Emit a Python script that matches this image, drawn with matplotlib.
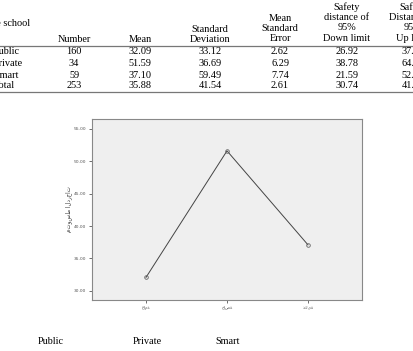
import matplotlib

matplotlib.use("Agg")
import matplotlib.pyplot as plt
from matplotlib.lines import Line2D

# Table data
row_names = ["Public", "Private", "Smart", "Total"]
counts = [160, 34, 59, 253]
means = [32.09, 51.59, 37.10, 35.88]
std_devs = [33.12, 36.69, 59.49, 41.54]
std_errors = [2.62, 6.29, 7.74, 2.61]
lower_limits = [26.92, 38.78, 21.59, 30.74]
upper_limits = [37.26, 64.40, 52.61, 41.02]

# Chart data (means of the three school types)
school_labels = ["عامة", "خاصة", "ذكية"]
school_means = [32.09, 51.59, 37.10]
y_ticks = [30.0, 35.0, 40.0, 45.0, 50.0, 55.0]
y_label = "متوسط الدرجات"
bottom_labels = ["Public", "Private", "Smart"]

W, H = 413, 351
fig = plt.figure(figsize=(W / 100, H / 100), dpi=100)
serif = "Liberation Serif"
fs = 7.4


def fx(px):
    return px / W


def fy(py):
    return 1 - py / H


# ---- table (left and right columns run off the page, as in the source) ----
fig.text(fx(30), fy(23), "Type of the school", ha="right", va="center",
         family=serif, fontsize=fs)
headers = [
    (74, "Number"),
    (140, "Mean"),
    (210, "Standard\nDeviation"),
    (280, "Mean\nStandard\nError"),
    (347, "Safety\ndistance of\n95%\nDown limit"),
    (413, "Safety\nDistance of\n95%\nUp limit"),
]
header_bottom = 40
for cx, txt in headers:
    n = txt.count("\n") + 1
    cy = header_bottom - (n - 1) * 11.6 / 2
    fig.text(fx(cx), fy(cy), txt, ha="center", va="center", family=serif,
             fontsize=fs, linespacing=1.15)

cols = [counts, means, std_devs, std_errors, lower_limits, upper_limits]
row_y = [52, 63.5, 75, 86]
for i, name in enumerate(row_names):
    fig.text(fx(-6), fy(row_y[i]), name, ha="left", va="center",
             family=serif, fontsize=fs)
    for (cx, _), col in zip(headers, cols):
        v = col[i]
        s = f"{v}" if isinstance(v, int) else f"{v:.2f}"
        fig.text(fx(cx), fy(row_y[i]), s, ha="center", va="center",
                 family=serif, fontsize=fs)

for ly in (46, 91.5):
    fig.add_artist(Line2D([0, 1], [fy(ly), fy(ly)], color="#777777",
                          linewidth=0.9, transform=fig.transFigure))

# ---- chart ----
ax = fig.add_axes([fx(92), fy(300), fx(362) - fx(92), fy(119) - fy(300)])
ax.set_facecolor("#efefef")
x = list(range(len(school_labels)))
ax.plot(x, school_means, color="#444444", linewidth=0.7, marker="o",
        markersize=2.6, markerfacecolor="none", markeredgecolor="#666666",
        markeredgewidth=0.6)
ax.set_xlim(-0.667, 2.667)
ax.set_ylim(28.6, 56.5)
ax.set_yticks(y_ticks)
ax.set_yticklabels([f"{t:.2f}" for t in y_ticks])
ax.set_xticks(x)
ax.set_xticklabels(school_labels)
ax.tick_params(axis="both", labelsize=3.2, colors="#555555", length=2.5,
               width=0.6, pad=1.5)
for sp in ax.spines.values():
    sp.set_color("#888888")
    sp.set_linewidth(0.8)
ax.set_ylabel(y_label, fontsize=4, color="#333333", labelpad=1)

# ---- bottom labels ----
for px, txt in zip([38, 133, 215], bottom_labels):
    fig.text(fx(px), fy(342), txt, ha="left", va="center", family=serif,
             fontsize=fs)

fig.savefig("out.png", dpi=100)
